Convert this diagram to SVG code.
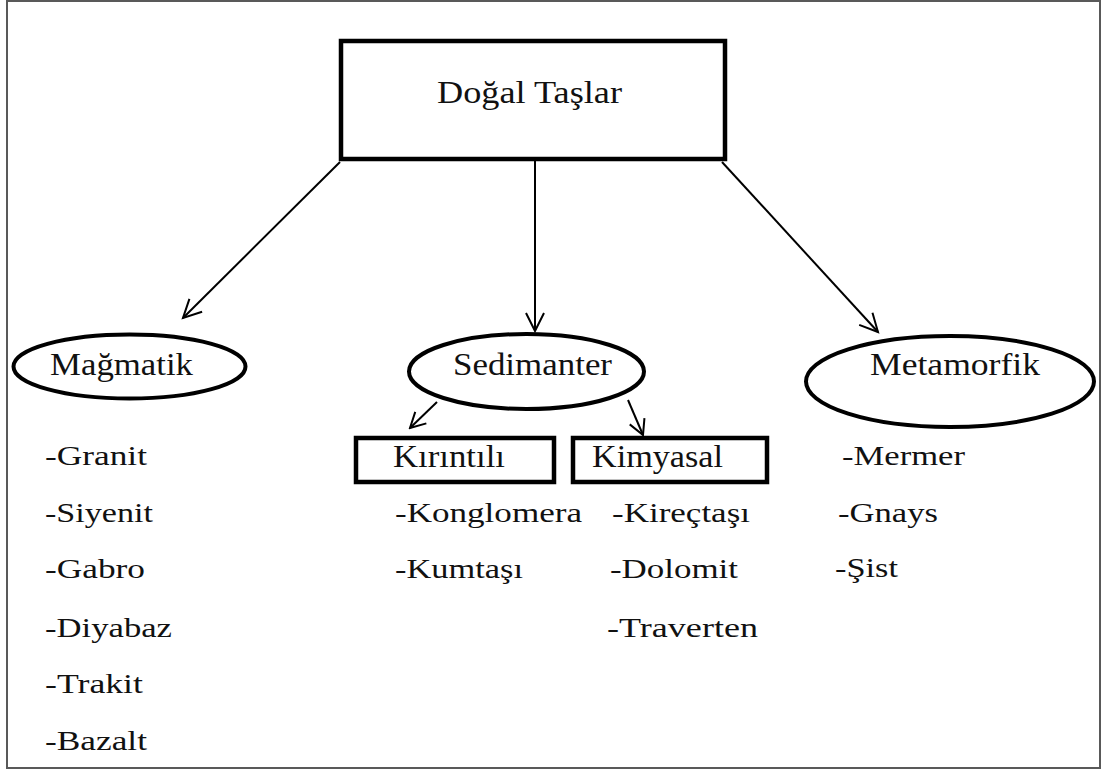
<svg xmlns="http://www.w3.org/2000/svg" width="1103" height="771" viewBox="0 0 1103 771">
<style>
.box{fill:#fff;stroke:#000;stroke-width:4.5}
.ell{fill:#fff;stroke:#000;stroke-width:4}
.lbl{font-family:"Liberation Serif","Times New Roman",serif;font-size:32px;fill:#111}
.item{font-family:"Liberation Serif","Times New Roman",serif;font-size:28px;fill:#111}
.conn{fill:none;stroke:#000;stroke-width:2}
</style>
<defs>
<marker id="arr" markerUnits="userSpaceOnUse" markerWidth="24" markerHeight="24" viewBox="-20 -12 24 24" refX="0" refY="0" orient="auto">
<path d="M-18,-9 L0,0 L-18,9" fill="none" stroke="#000" stroke-width="2"/>
</marker>
<marker id="arrs" markerUnits="userSpaceOnUse" markerWidth="20" markerHeight="20" viewBox="-18 -10 20 20" refX="0" refY="0" orient="auto">
<path d="M-15,-8 L0,0 L-15,8" fill="none" stroke="#000" stroke-width="2"/>
</marker>
</defs>
<rect x="0" y="0" width="1103" height="771" fill="#fff"/>
<rect x="7" y="1" width="1093" height="767" fill="none" stroke="#595959" stroke-width="2"/>
<g id="connectors">
<line class="conn" x1="340" y1="162" x2="183" y2="318" marker-end="url(#arr)"/>
<line class="conn" x1="535" y1="161" x2="535" y2="331" marker-end="url(#arr)"/>
<line class="conn" x1="722" y1="162" x2="878" y2="332" marker-end="url(#arr)"/>
<line class="conn" x1="437" y1="402" x2="410" y2="428" marker-end="url(#arrs)"/>
<line class="conn" x1="628" y1="400" x2="643" y2="435" marker-end="url(#arrs)"/>
</g>
<g id="dogal-taslar">
<rect class="box" x="341" y="41" width="384" height="118"/>
<text class="lbl" x="437" y="103" textLength="185" lengthAdjust="spacingAndGlyphs">Doğal Taşlar</text>
</g>
<g id="magmatik">
<ellipse class="ell" cx="129.5" cy="366.5" rx="116" ry="32"/>
<text class="lbl" x="50" y="375" textLength="143" lengthAdjust="spacingAndGlyphs">Mağmatik</text>
</g>
<g id="sedimanter">
<ellipse class="ell" cx="526.5" cy="371.5" rx="117.5" ry="37.5"/>
<text class="lbl" x="453" y="375" textLength="159" lengthAdjust="spacingAndGlyphs">Sedimanter</text>
</g>
<g id="metamorfik">
<ellipse class="ell" cx="950" cy="381.5" rx="144" ry="45.5"/>
<text class="lbl" x="870" y="375" textLength="170" lengthAdjust="spacingAndGlyphs">Metamorfik</text>
</g>
<g id="kirintili">
<rect class="box" x="356" y="438" width="198" height="44"/>
<text class="lbl" x="393" y="467" textLength="112" lengthAdjust="spacingAndGlyphs">Kırıntılı</text>
</g>
<g id="kimyasal">
<rect class="box" x="573" y="438" width="194" height="44"/>
<text class="lbl" x="592" y="467" textLength="131" lengthAdjust="spacingAndGlyphs">Kimyasal</text>
</g>
<g id="magmatik-list">
<text class="item" x="45" y="465" textLength="102" lengthAdjust="spacingAndGlyphs">-Granit</text>
<text class="item" x="45" y="522" textLength="108" lengthAdjust="spacingAndGlyphs">-Siyenit</text>
<text class="item" x="45" y="578" textLength="100" lengthAdjust="spacingAndGlyphs">-Gabro</text>
<text class="item" x="45" y="637" textLength="127" lengthAdjust="spacingAndGlyphs">-Diyabaz</text>
<text class="item" x="45" y="693" textLength="98" lengthAdjust="spacingAndGlyphs">-Trakit</text>
<text class="item" x="45" y="750" textLength="102" lengthAdjust="spacingAndGlyphs">-Bazalt</text>
</g>
<g id="kirintili-list">
<text class="item" x="395" y="522" textLength="187" lengthAdjust="spacingAndGlyphs">-Konglomera</text>
<text class="item" x="395" y="578" textLength="128" lengthAdjust="spacingAndGlyphs">-Kumtaşı</text>
</g>
<g id="kimyasal-list">
<text class="item" x="612" y="522" textLength="138" lengthAdjust="spacingAndGlyphs">-Kireçtaşı</text>
<text class="item" x="610" y="578" textLength="128" lengthAdjust="spacingAndGlyphs">-Dolomit</text>
<text class="item" x="607" y="637" textLength="151" lengthAdjust="spacingAndGlyphs">-Traverten</text>
</g>
<g id="metamorfik-list">
<text class="item" x="842" y="465" textLength="123" lengthAdjust="spacingAndGlyphs">-Mermer</text>
<text class="item" x="838" y="522" textLength="100" lengthAdjust="spacingAndGlyphs">-Gnays</text>
<text class="item" x="835" y="577" textLength="63" lengthAdjust="spacingAndGlyphs">-Şist</text>
</g>
</svg>
